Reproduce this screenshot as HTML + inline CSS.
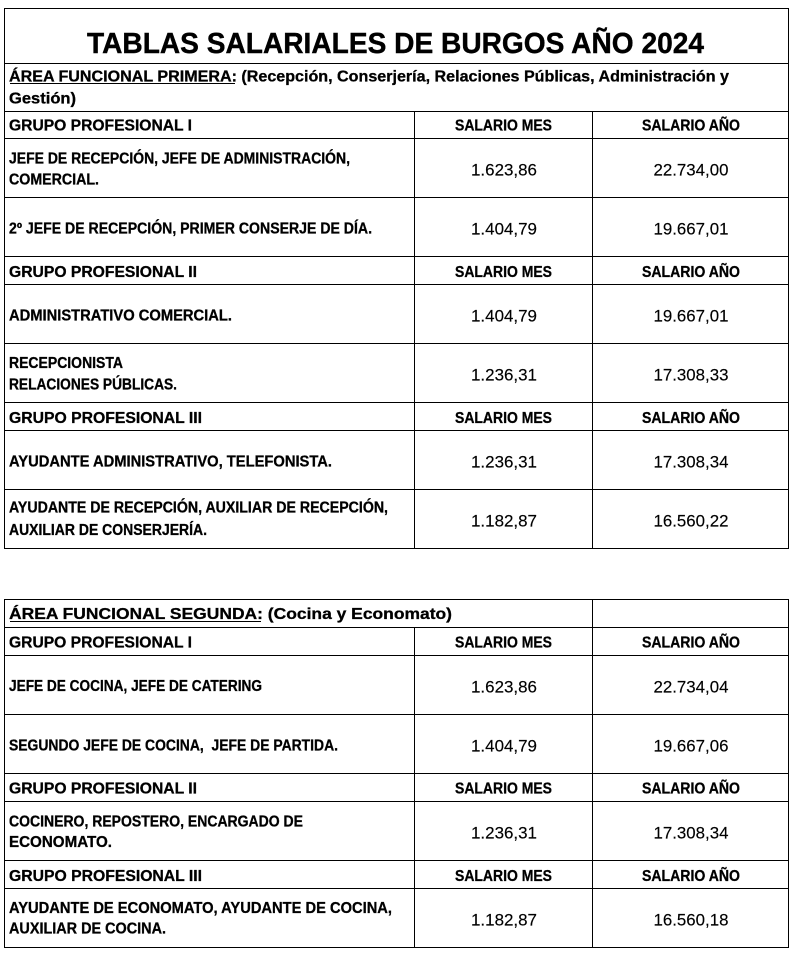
<!DOCTYPE html>
<html>
<head>
<meta charset="utf-8">
<style>
  html, body { margin:0; padding:0; background:#fff; }
  svg { display:block; }
  text { font-family: "Liberation Sans", "DejaVu Sans", sans-serif; fill:#000; }
  .b { font-weight:bold; font-size:15.5px; stroke:#000; stroke-width:0.3px; }
  .n { font-weight:normal; font-size:17px; stroke:#000; stroke-width:0.15px; }
  .a { font-weight:bold; font-size:16px; stroke:#000; stroke-width:0.3px; }
  .t { font-weight:bold; font-size:28.5px; stroke:#000; stroke-width:0.4px; }
</style>
</head>
<body>
<svg width="795" height="962" viewBox="0 0 795 962" xmlns="http://www.w3.org/2000/svg">
  <rect x="0" y="0" width="795" height="962" fill="#fff"/>
  <g fill="#000" shape-rendering="crispEdges">
    <!-- Table 1 horizontals -->
    <rect x="4" y="8" width="785" height="1"/>
    <rect x="4" y="63" width="785" height="1"/>
    <rect x="4" y="111" width="785" height="1"/>
    <rect x="4" y="138" width="785" height="1"/>
    <rect x="4" y="197" width="785" height="1"/>
    <rect x="4" y="256" width="785" height="1"/>
    <rect x="4" y="284" width="785" height="1"/>
    <rect x="4" y="343" width="785" height="1"/>
    <rect x="4" y="402" width="785" height="1"/>
    <rect x="4" y="430" width="785" height="1"/>
    <rect x="4" y="489" width="785" height="1"/>
    <rect x="4" y="548" width="785" height="1"/>
    <!-- Table 1 verticals -->
    <rect x="4" y="8" width="1" height="541"/>
    <rect x="788" y="8" width="1" height="541"/>
    <rect x="414" y="111" width="1" height="438"/>
    <rect x="592" y="111" width="1" height="438"/>

    <!-- Table 2 horizontals -->
    <rect x="4" y="599" width="785" height="1"/>
    <rect x="4" y="627" width="785" height="1"/>
    <rect x="4" y="655" width="785" height="1"/>
    <rect x="4" y="714" width="785" height="1"/>
    <rect x="4" y="773" width="785" height="1"/>
    <rect x="4" y="801" width="785" height="1"/>
    <rect x="4" y="860" width="785" height="1"/>
    <rect x="4" y="888" width="785" height="1"/>
    <rect x="4" y="947" width="785" height="1"/>
    <!-- Table 2 verticals -->
    <rect x="4" y="599" width="1" height="349"/>
    <rect x="788" y="599" width="1" height="349"/>
    <rect x="592" y="599" width="1" height="349"/>
    <rect x="414" y="627" width="1" height="321"/>

    <!-- underlines -->
    <rect x="10" y="83" width="225" height="1"/>
    <rect x="10" y="621" width="251" height="1"/>
  </g>

  <!-- Title -->
  <text class="t" x="87" y="53" textLength="617" lengthAdjust="spacingAndGlyphs">TABLAS SALARIALES DE BURGOS AÑO 2024</text>

  <!-- Area 1 -->
  <text class="a" x="9" y="81.5" textLength="720" lengthAdjust="spacingAndGlyphs">ÁREA FUNCIONAL PRIMERA: (Recepción, Conserjería, Relaciones Públicas, Administración y</text>
  <text class="a" x="9" y="103.5" textLength="67" lengthAdjust="spacingAndGlyphs">Gestión)</text>

  <!-- Group I -->
  <text class="b" x="9" y="130.5" textLength="183" lengthAdjust="spacingAndGlyphs">GRUPO PROFESIONAL I</text>
  <text class="b" x="503.5" y="130.5" text-anchor="middle" textLength="97" lengthAdjust="spacingAndGlyphs">SALARIO MES</text>
  <text class="b" x="691" y="130.5" text-anchor="middle" textLength="98" lengthAdjust="spacingAndGlyphs">SALARIO AÑO</text>

  <text class="b" x="9" y="163.5" textLength="341" lengthAdjust="spacingAndGlyphs">JEFE DE RECEPCIÓN, JEFE DE ADMINISTRACIÓN,</text>
  <text class="b" x="9" y="184.5" textLength="90" lengthAdjust="spacingAndGlyphs">COMERCIAL.</text>
  <text class="n" x="504" y="175.5" text-anchor="middle" textLength="66" lengthAdjust="spacingAndGlyphs">1.623,86</text>
  <text class="n" x="691" y="175.5" text-anchor="middle" textLength="75" lengthAdjust="spacingAndGlyphs">22.734,00</text>

  <text class="b" x="9" y="233.5" textLength="363" lengthAdjust="spacingAndGlyphs">2º JEFE DE RECEPCIÓN, PRIMER CONSERJE DE DÍA.</text>
  <text class="n" x="504" y="234.5" text-anchor="middle" textLength="66" lengthAdjust="spacingAndGlyphs">1.404,79</text>
  <text class="n" x="691" y="234.5" text-anchor="middle" textLength="75" lengthAdjust="spacingAndGlyphs">19.667,01</text>

  <!-- Group II -->
  <text class="b" x="9" y="277" textLength="188" lengthAdjust="spacingAndGlyphs">GRUPO PROFESIONAL II</text>
  <text class="b" x="503.5" y="277" text-anchor="middle" textLength="97" lengthAdjust="spacingAndGlyphs">SALARIO MES</text>
  <text class="b" x="691" y="277" text-anchor="middle" textLength="98" lengthAdjust="spacingAndGlyphs">SALARIO AÑO</text>

  <text class="b" x="9" y="320.5" textLength="223" lengthAdjust="spacingAndGlyphs">ADMINISTRATIVO COMERCIAL.</text>
  <text class="n" x="504" y="321.5" text-anchor="middle" textLength="66" lengthAdjust="spacingAndGlyphs">1.404,79</text>
  <text class="n" x="691" y="321.5" text-anchor="middle" textLength="75" lengthAdjust="spacingAndGlyphs">19.667,01</text>

  <text class="b" x="9" y="368" textLength="114" lengthAdjust="spacingAndGlyphs">RECEPCIONISTA</text>
  <text class="b" x="9" y="389.5" textLength="168" lengthAdjust="spacingAndGlyphs">RELACIONES PÚBLICAS.</text>
  <text class="n" x="504" y="380.5" text-anchor="middle" textLength="66" lengthAdjust="spacingAndGlyphs">1.236,31</text>
  <text class="n" x="691" y="380.5" text-anchor="middle" textLength="75" lengthAdjust="spacingAndGlyphs">17.308,33</text>

  <!-- Group III -->
  <text class="b" x="9" y="423" textLength="193" lengthAdjust="spacingAndGlyphs">GRUPO PROFESIONAL III</text>
  <text class="b" x="503.5" y="423" text-anchor="middle" textLength="97" lengthAdjust="spacingAndGlyphs">SALARIO MES</text>
  <text class="b" x="691" y="423" text-anchor="middle" textLength="98" lengthAdjust="spacingAndGlyphs">SALARIO AÑO</text>

  <text class="b" x="9" y="466.5" textLength="323" lengthAdjust="spacingAndGlyphs">AYUDANTE ADMINISTRATIVO, TELEFONISTA.</text>
  <text class="n" x="504" y="467.5" text-anchor="middle" textLength="66" lengthAdjust="spacingAndGlyphs">1.236,31</text>
  <text class="n" x="691" y="467.5" text-anchor="middle" textLength="75" lengthAdjust="spacingAndGlyphs">17.308,34</text>

  <text class="b" x="9" y="512.5" textLength="379" lengthAdjust="spacingAndGlyphs">AYUDANTE DE RECEPCIÓN, AUXILIAR DE RECEPCIÓN,</text>
  <text class="b" x="9" y="535" textLength="198" lengthAdjust="spacingAndGlyphs">AUXILIAR DE CONSERJERÍA.</text>
  <text class="n" x="504" y="526.5" text-anchor="middle" textLength="66" lengthAdjust="spacingAndGlyphs">1.182,87</text>
  <text class="n" x="691" y="526.5" text-anchor="middle" textLength="75" lengthAdjust="spacingAndGlyphs">16.560,22</text>

  <!-- Area 2 -->
  <text class="a" x="9" y="619" textLength="443" lengthAdjust="spacingAndGlyphs">ÁREA FUNCIONAL SEGUNDA: (Cocina y Economato)</text>

  <text class="b" x="9" y="647.5" textLength="183" lengthAdjust="spacingAndGlyphs">GRUPO PROFESIONAL I</text>
  <text class="b" x="503.5" y="647.5" text-anchor="middle" textLength="97" lengthAdjust="spacingAndGlyphs">SALARIO MES</text>
  <text class="b" x="691" y="647.5" text-anchor="middle" textLength="98" lengthAdjust="spacingAndGlyphs">SALARIO AÑO</text>

  <text class="b" x="9" y="691" textLength="253" lengthAdjust="spacingAndGlyphs">JEFE DE COCINA, JEFE DE CATERING</text>
  <text class="n" x="504" y="692.5" text-anchor="middle" textLength="66" lengthAdjust="spacingAndGlyphs">1.623,86</text>
  <text class="n" x="691" y="692.5" text-anchor="middle" textLength="75" lengthAdjust="spacingAndGlyphs">22.734,04</text>

  <text class="b" x="9" y="750.5" textLength="329" lengthAdjust="spacingAndGlyphs" xml:space="preserve">SEGUNDO JEFE DE COCINA,  JEFE DE PARTIDA.</text>
  <text class="n" x="504" y="751.5" text-anchor="middle" textLength="66" lengthAdjust="spacingAndGlyphs">1.404,79</text>
  <text class="n" x="691" y="751.5" text-anchor="middle" textLength="75" lengthAdjust="spacingAndGlyphs">19.667,06</text>

  <text class="b" x="9" y="793.5" textLength="188" lengthAdjust="spacingAndGlyphs">GRUPO PROFESIONAL II</text>
  <text class="b" x="503.5" y="793.5" text-anchor="middle" textLength="97" lengthAdjust="spacingAndGlyphs">SALARIO MES</text>
  <text class="b" x="691" y="793.5" text-anchor="middle" textLength="98" lengthAdjust="spacingAndGlyphs">SALARIO AÑO</text>

  <text class="b" x="9" y="826.5" textLength="294" lengthAdjust="spacingAndGlyphs">COCINERO, REPOSTERO, ENCARGADO DE</text>
  <text class="b" x="9" y="847" textLength="103" lengthAdjust="spacingAndGlyphs">ECONOMATO.</text>
  <text class="n" x="504" y="838.5" text-anchor="middle" textLength="66" lengthAdjust="spacingAndGlyphs">1.236,31</text>
  <text class="n" x="691" y="838.5" text-anchor="middle" textLength="75" lengthAdjust="spacingAndGlyphs">17.308,34</text>

  <text class="b" x="9" y="881" textLength="193" lengthAdjust="spacingAndGlyphs">GRUPO PROFESIONAL III</text>
  <text class="b" x="503.5" y="881" text-anchor="middle" textLength="97" lengthAdjust="spacingAndGlyphs">SALARIO MES</text>
  <text class="b" x="691" y="881" text-anchor="middle" textLength="98" lengthAdjust="spacingAndGlyphs">SALARIO AÑO</text>

  <text class="b" x="9" y="913" textLength="383" lengthAdjust="spacingAndGlyphs">AYUDANTE DE ECONOMATO, AYUDANTE DE COCINA,</text>
  <text class="b" x="9" y="933.5" textLength="157" lengthAdjust="spacingAndGlyphs">AUXILIAR DE COCINA.</text>
  <text class="n" x="504" y="925.5" text-anchor="middle" textLength="66" lengthAdjust="spacingAndGlyphs">1.182,87</text>
  <text class="n" x="691" y="925.5" text-anchor="middle" textLength="75" lengthAdjust="spacingAndGlyphs">16.560,18</text>
</svg>
</body>
</html>
